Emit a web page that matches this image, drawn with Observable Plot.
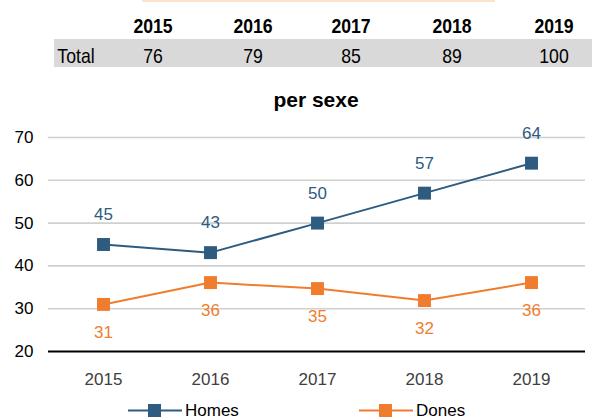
<!DOCTYPE html>
<html>
<head>
<meta charset="utf-8">
<script src="https://cdn.jsdelivr.net/npm/d3@7"></script>
<script src="https://cdn.jsdelivr.net/npm/@observablehq/plot@0.6"></script>
<style>
  body { margin: 0; background: #fff; }
  #wrap { position: relative; width: 592px; height: 419px; overflow: hidden; font-family: "Liberation Sans", Arial, sans-serif; }
  #topline { position: absolute; left: 142px; top: 0; width: 353px; height: 2px; background: #fbe3cc; }
  #band { position: absolute; left: 54px; top: 39px; width: 538px; height: 28px; background: #d9d9d9; }
  .cell { position: absolute; font-size: 21px; line-height: 21px; transform: translate(-50%, -50%) scaleX(0.84); white-space: nowrap; color: #000; }
  .hdr { font-weight: bold; }
  #title { position: absolute; left: 316px; top: 100px; transform: translate(-50%, -50%); font-weight: bold; font-size: 21px; color: #000; }
  #chart { position: absolute; left: 0; top: 110px; }
  .leg { position: absolute; top: 402px; height: 17px; line-height: 17px; display: flex; align-items: center; font-size: 17px; color: #000; }
</style>
</head>
<body>
<div id="wrap">
  <div id="topline"></div>
  <div id="band"></div>
  <div id="table"></div>
  <div id="title">per sexe</div>
  <div id="chart"></div>
  <div id="legend"></div>
</div>
<script>
const years = ["2015", "2016", "2017", "2018", "2019"];
const totals = [76, 79, 85, 89, 100];
const homes = [45, 43.1, 50, 57, 64];
const dones = [31, 36.1, 34.7, 31.9, 36.1];
const seriesNames = ["Homes", "Dones"];
const seriesColors = ["#2e5b80", "#f07d2e"];
const yTicks = [20, 30, 40, 50, 60, 70];

// summary table
const tableEl = document.getElementById("table");
const colX = [153, 253, 351, 452, 554];
years.forEach((y, i) => {
  const h = document.createElement("div");
  h.className = "cell hdr";
  h.style.left = colX[i] + "px"; h.style.top = "25px";
  h.textContent = y;
  tableEl.appendChild(h);
  const v = document.createElement("div");
  v.className = "cell";
  v.style.left = colX[i] + "px"; v.style.top = "55px";
  v.textContent = totals[i];
  tableEl.appendChild(v);
});
const lab = document.createElement("div");
lab.className = "cell";
lab.style.left = "76px"; lab.style.top = "55px";
lab.textContent = "Total";
tableEl.appendChild(lab);

const data = [];
years.forEach((y, i) => {
  data.push({year: y, value: homes[i], series: seriesNames[0]});
  data.push({year: y, value: dones[i], series: seriesNames[1]});
});
const hData = data.filter(d => d.series === "Homes");
const dData = data.filter(d => d.series === "Dones");

const chart = Plot.plot({
  width: 592,
  height: 280,
  marginLeft: 48,
  marginRight: 7,
  marginTop: 27,
  marginBottom: 39,
  style: {fontFamily: "Liberation Sans, Arial, sans-serif", fontSize: "17px", background: "transparent", overflow: "visible"},
  x: {type: "point", domain: years, padding: 0.5, label: null},
  y: {domain: [20, 70], ticks: yTicks, label: null},
  color: {domain: seriesNames, range: seriesColors},
  marks: [
    Plot.ruleY(yTicks.filter(t => t > 20), {stroke: "#d0d0d0", strokeWidth: 1.6}),
    Plot.ruleY([20], {stroke: "#000", strokeWidth: 1.8}),
    Plot.axisY({ticks: yTicks, tickSize: 0, tickPadding: 15, fill: "#000", fontSize: 17, label: null}),
    Plot.axisX({tickSize: 0, tickPadding: 21, fill: "#404040", fontSize: 17, label: null}),
    Plot.line(data, {x: "year", y: "value", z: "series", stroke: "series", strokeWidth: 2}),
    Plot.dot(data, {x: "year", y: "value", fill: "series", symbol: "square", r: 7.3, stroke: "none"}),
    Plot.text(hData, {x: "year", y: "value", text: d => Math.round(d.value), dy: -30, fill: seriesColors[0], fontSize: 17}),
    Plot.text(dData, {x: "year", y: "value", text: d => Math.round(d.value), dy: 28, fill: seriesColors[1], fontSize: 17})
  ]
});
document.getElementById("chart").appendChild(chart);

// legend
const legendEl = document.getElementById("legend");
const legX = [128, 359];
seriesNames.forEach((name, i) => {
  const item = document.createElement("div");
  item.className = "leg";
  item.style.left = legX[i] + "px";
  item.innerHTML = `<svg width="54" height="17" style="margin-right:3px"><line x1="0" x2="54" y1="8.5" y2="8.5" stroke="${seriesColors[i]}" stroke-width="2"/><rect x="20" y="2" width="13" height="13" fill="${seriesColors[i]}"/></svg><span>${name}</span>`;
  legendEl.appendChild(item);
});
</script>
</body>
</html>
